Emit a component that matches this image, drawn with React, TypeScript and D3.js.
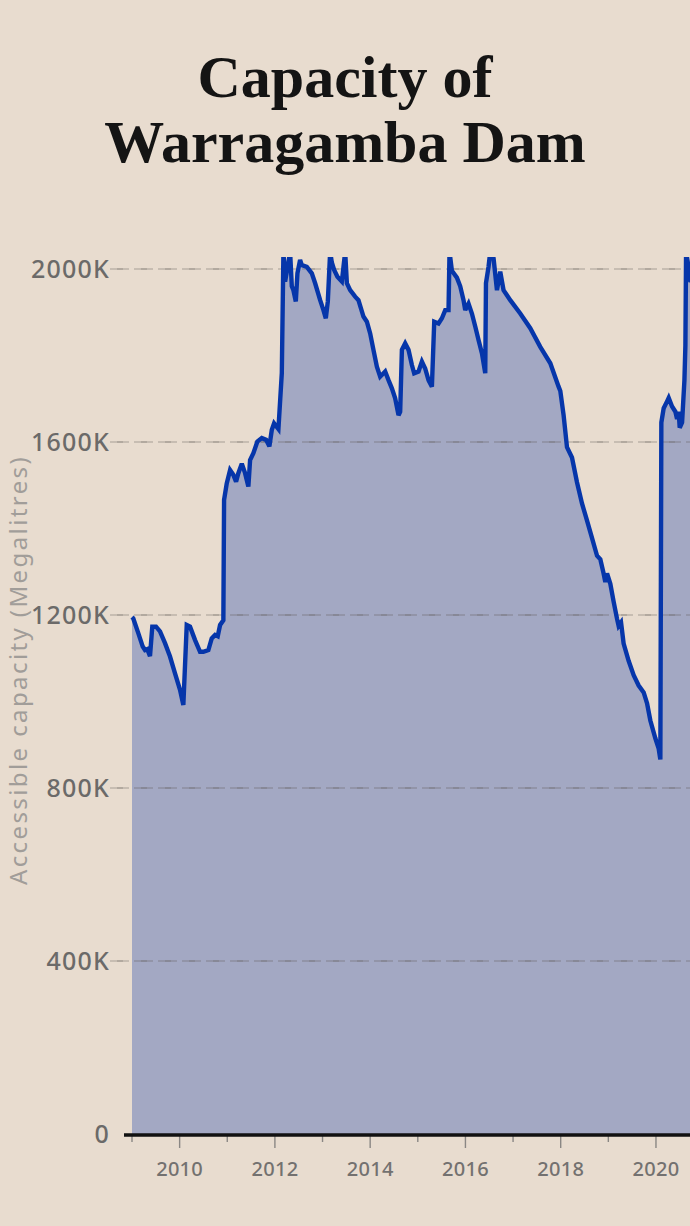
import React from "react";
import * as d3 from "d3";

const W = 690;
const H = 1226;

const titleLines = ["Capacity of", "Warragamba Dam"];
const yAxisTitle = "Accessible capacity (Megalitres)";
const yTicks = [0, 400, 800, 1200, 1600, 2000];
const xTicksMajor = [2010, 2012, 2014, 2016, 2018, 2020];
const xTicksMinor = [2009, 2011, 2013, 2015, 2017, 2019];

// decimal years
const dates = [
  2009.0, 2009.027, 2009.132, 2009.225, 2009.273, 2009.321, 2009.378, 2009.426, 2009.504, 2009.588,
  2009.693, 2009.798, 2009.903, 2010.008, 2010.078, 2010.149, 2010.218, 2010.324, 2010.429, 2010.498,
  2010.603, 2010.674, 2010.744, 2010.8, 2010.849, 2010.918, 2010.933, 2010.989, 2011.059, 2011.128,
  2011.185, 2011.233, 2011.305, 2011.374, 2011.443, 2011.479, 2011.548, 2011.632, 2011.725, 2011.815,
  2011.884, 2011.935, 2011.983, 2012.074, 2012.145, 2012.179, 2012.214, 2012.263, 2012.319, 2012.355,
  2012.389, 2012.439, 2012.473, 2012.529, 2012.565, 2012.67, 2012.775, 2012.845, 2012.95, 2013.019,
  2013.069, 2013.111, 2013.16, 2013.195, 2013.244, 2013.313, 2013.406, 2013.475, 2013.511, 2013.58,
  2013.685, 2013.754, 2013.859, 2013.931, 2014.0, 2014.069, 2014.141, 2014.21, 2014.315, 2014.385,
  2014.456, 2014.525, 2014.595, 2014.63, 2014.666, 2014.735, 2014.805, 2014.876, 2014.924, 2015.015,
  2015.086, 2015.155, 2015.225, 2015.296, 2015.345, 2015.435, 2015.506, 2015.576, 2015.645, 2015.666,
  2015.716, 2015.821, 2015.891, 2015.96, 2015.996, 2016.065, 2016.136, 2016.206, 2016.275, 2016.347,
  2016.416, 2016.431, 2016.485, 2016.521, 2016.59, 2016.662, 2016.731, 2016.8, 2016.941, 2017.151,
  2017.361, 2017.571, 2017.782, 2017.956, 2017.992, 2018.061, 2018.132, 2018.237, 2018.342, 2018.447,
  2018.553, 2018.658, 2018.763, 2018.832, 2018.901, 2018.937, 2018.973, 2019.042, 2019.111, 2019.183,
  2019.216, 2019.267, 2019.321, 2019.426, 2019.532, 2019.637, 2019.742, 2019.813, 2019.882, 2019.987,
  2020.057, 2020.092, 2020.113, 2020.162, 2020.233, 2020.267, 2020.338, 2020.408, 2020.443, 2020.477,
  2020.498, 2020.548, 2020.597, 2020.618, 2020.632, 2020.687, 2020.723, 2020.765,
];

// thousands of megalitres
const capacity = [
  1195, 1192, 1158, 1127, 1119, 1121, 1105, 1173, 1173, 1162,
  1135, 1104, 1065, 1027, 992, 1177, 1173, 1142, 1115, 1115,
  1119, 1146, 1154, 1151, 1177, 1188, 1466, 1504, 1535, 1524,
  1508, 1528, 1550, 1528, 1497, 1558, 1574, 1601, 1609, 1605,
  1590, 1628, 1643, 1630, 1759, 2040, 1971, 2002, 2040, 1960,
  1951, 1925, 1990, 2021, 2009, 2005, 1990, 1967, 1928, 1905,
  1886, 1925, 2040, 2015, 1998, 1982, 1971, 2040, 1967, 1951,
  1936, 1928, 1890, 1878, 1851, 1813, 1774, 1751, 1763, 1743,
  1724, 1701, 1662, 1670, 1813, 1828, 1813, 1778, 1759, 1763,
  1786, 1770, 1743, 1728, 1878, 1874, 1886, 1905, 1905, 2040,
  1996, 1980, 1960, 1928, 1905, 1920, 1897, 1867, 1836, 1805,
  1759, 1967, 2005, 2040, 2025, 1951, 1994, 1951, 1928, 1897,
  1863, 1820, 1782, 1728, 1718, 1662, 1588, 1564, 1507, 1458,
  1418, 1378, 1337, 1329, 1296, 1276, 1296, 1272, 1231, 1191,
  1175, 1183, 1134, 1094, 1061, 1037, 1021, 996, 956, 915,
  891, 866, 1645, 1678, 1694, 1702, 1682, 1670, 1653, 1670,
  1633, 1645, 1742, 1824, 2040, 2002, 1970, 1985,
];

export default function App() {
  const x = d3.scaleLinear().domain([2009, 2021]).range([132, 703.6]);
  const y = d3.scaleLinear().domain([0, 2000]).range([1134, 269]);
  const data = dates.map((t, i) => ({ t, v: capacity[i] }));
  const area = d3
    .area<{ t: number; v: number }>()
    .x((d) => x(d.t))
    .y0(y(0))
    .y1((d) => y(d.v));
  const line = d3
    .line<{ t: number; v: number }>()
    .x((d) => x(d.t))
    .y((d) => y(d.v));

  const labelFont = "'Noto Sans', 'DejaVu Sans', sans-serif";

  return (
    <div style={{ position: "absolute", left: 0, top: 0, width: W, height: H }}>
      <svg width={W} height={H} style={{ display: "block", background: "#e8dccf" }}>
        <defs>
          <clipPath id="plotclip">
            <rect x={0} y={257} width={W} height={1134 - 257} />
          </clipPath>
        </defs>
        <rect x={0} y={0} width={W} height={H} fill="#e8dccf" />
        {titleLines.map((t, i) => (
          <text
            key={t}
            x={345}
            y={97 + i * 65}
            textAnchor="middle"
            fontFamily="'Liberation Serif', serif"
            fontWeight="bold"
            fontSize={60}
            fill="#141414"
          >
            {t}
          </text>
        ))}
        <g clipPath="url(#plotclip)">
          <path d={area(data) || ""} fill="#a3a8c3" />
        </g>
        {yTicks
          .filter((v) => v > 0)
          .map((v) => (
            <g key={v}>
              <line
                x1={110}
                x2={W}
                y1={y(v)}
                y2={y(v)}
                stroke="#5a5652"
                strokeOpacity={0.3}
                strokeWidth={1.6}
                strokeDasharray="19 5"
              />
              <line
                x1={110}
                x2={W}
                y1={y(v)}
                y2={y(v)}
                stroke="#5a5652"
                strokeOpacity={0.25}
                strokeWidth={1.6}
                strokeDasharray="6 18"
                strokeDashoffset={-7}
              />
            </g>
          ))}
        <g clipPath="url(#plotclip)">
          <path
            d={line(data) || ""}
            fill="none"
            stroke="#0636aa"
            strokeWidth={4.4}
            strokeLinejoin="miter"
            strokeMiterlimit={3}
          />
        </g>
        {yTicks.map((v) => (
          <text
            key={"yl" + v}
            x={110}
            y={y(v)}
            dy="0.36em"
            textAnchor="end"
            fontFamily={labelFont}
            fontSize={25}
            fontWeight={500}
            letterSpacing={1.2}
            fill="#6b6a69"
          >
            {v === 0 ? "0" : `${v}K`}
          </text>
        ))}
        <text
          transform={`translate(27,670) rotate(-90)`}
          textAnchor="middle"
          fontFamily={labelFont}
          fontSize={24}
          letterSpacing={2.4}
          fill="#a19d99"
        >
          {yAxisTitle}
        </text>
        {xTicksMajor.map((t) => (
          <g key={"xt" + t}>
            <line x1={x(t)} x2={x(t)} y1={1136} y2={1148} stroke="#8a8784" strokeWidth={1.4} />
            <text
              x={x(t)}
              y={1176}
              textAnchor="middle"
              fontFamily={labelFont}
              fontSize={20}
              fontWeight={500}
              letterSpacing={0.3}
              fill="#737170"
            >
              {t}
            </text>
          </g>
        ))}
        {xTicksMinor.map((t) => (
          <line key={"xm" + t} x1={x(t)} x2={x(t)} y1={1136} y2={1142} stroke="#8a8784" strokeWidth={1.4} />
        ))}
        <line x1={124} x2={W} y1={1135} y2={1135} stroke="#111" strokeWidth={3.5} />
      </svg>
    </div>
  );
}
